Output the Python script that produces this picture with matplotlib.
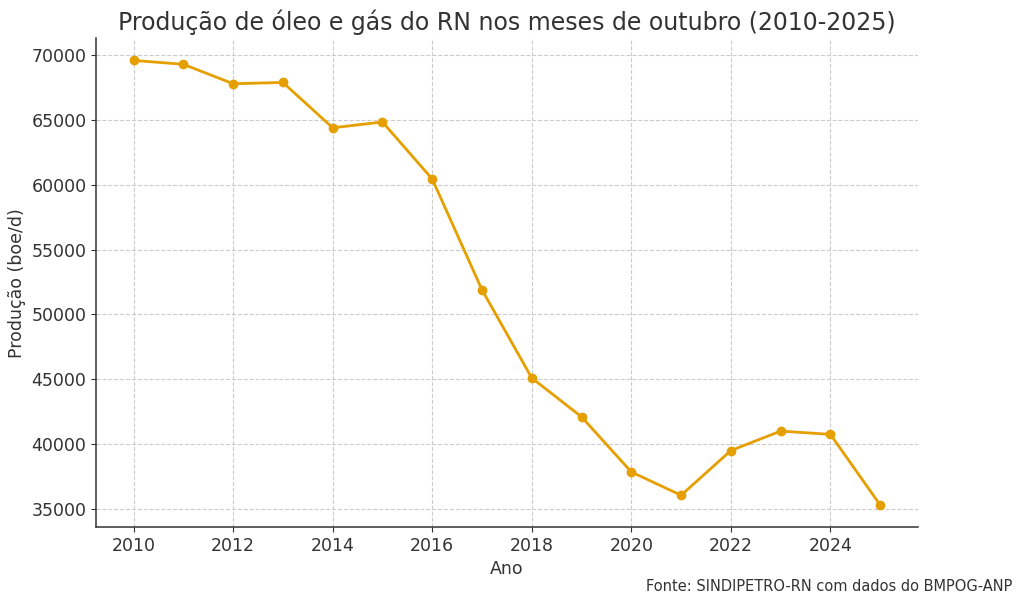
import matplotlib
matplotlib.use("Agg")
import matplotlib.pyplot as plt

# October production in RN (boe/d)
years = [2010, 2011, 2012, 2013, 2014, 2015, 2016, 2017,
         2018, 2019, 2020, 2021, 2022, 2023, 2024, 2025]
production = [69600, 69300, 67800, 67900, 64400, 64850, 60450, 51900,
              45100, 42100, 37850, 36050, 39500, 41000, 40750, 35300]

LINE = "#E69F00"
TEXT = "#333333"

fig = plt.figure(figsize=(10.24, 6.06), dpi=100, facecolor="white")
ax = fig.add_axes([0.094, 0.130, 0.802, 0.807])

ax.plot(years, production, color=LINE, linewidth=2, marker="o", markersize=6)

ax.set_title("Produção de óleo e gás do RN nos meses de outubro (2010-2025)",
             fontsize=17, color=TEXT, pad=6)
ax.set_xlabel("Ano", fontsize=12.5, color=TEXT)
ax.set_ylabel("Produção (boe/d)", fontsize=12.5, color=TEXT)

ax.set_xticks(range(2010, 2026, 2))
ax.set_yticks(range(35000, 70001, 5000))
ax.tick_params(labelsize=12.5, colors=TEXT)
ax.grid(True, linestyle="--", color="#cccccc", linewidth=0.8)
ax.set_axisbelow(True)
ax.spines["top"].set_visible(False)
ax.spines["right"].set_visible(False)
for side in ("left", "bottom"):
    ax.spines[side].set_color(TEXT)
    ax.spines[side].set_linewidth(1.1)

fig.text(0.989, 0.024, "Fonte: SINDIPETRO-RN com dados do BMPOG-ANP",
         ha="right", fontsize=10.5, color=TEXT)

fig.savefig("out.png", dpi=100, facecolor="white")
